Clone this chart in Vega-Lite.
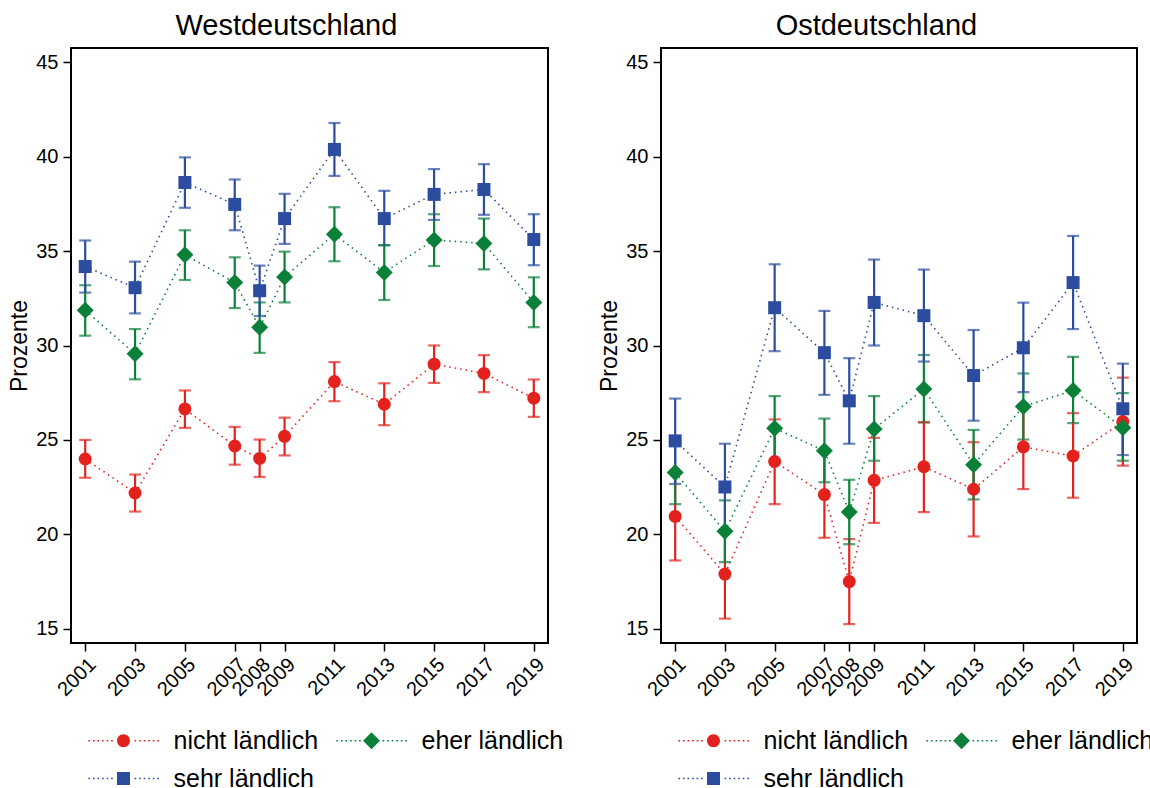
{
  "$schema": "https://vega.github.io/schema/vega-lite/v6.json",
  "padding": {"left": 7, "top": 11, "right": 5, "bottom": 0},
  "background": "white",
  "config": {
    "font": "Liberation Sans",
    "view": {"stroke": "black", "strokeWidth": 2},
    "title": {"fontSize": 29, "fontWeight": "normal", "color": "black", "anchor": "middle", "frame": "bounds", "offset": 7},
    "axis": {"grid": false, "domain": false, "tickColor": "black", "tickWidth": 1.5, "tickSize": 8, "labelColor": "black", "labelFontSize": 20, "titleColor": "black", "titleFontWeight": "normal", "titleFontSize": 23, "labelPadding": 5, "labelOverlap": false},
    "legend": {"orient": "bottom", "title": null, "columns": 2, "labelFontSize": 25, "labelColor": "black", "symbolSize": 169, "symbolStrokeWidth": 0, "symbolOpacity": 1, "symbolOffset": 40, "labelOffset": 37.5, "columnPadding": -4, "rowPadding": 12, "offset": 28}
  },
  "data": {"values": [
    {"region": "West", "serie": "nicht ländlich", "jahr": 2001, "wert": 23.99, "lo": 23.0, "hi": 25.0},
    {"region": "West", "serie": "nicht ländlich", "jahr": 2003, "wert": 22.19, "lo": 21.21, "hi": 23.17},
    {"region": "West", "serie": "nicht ländlich", "jahr": 2005, "wert": 26.64, "lo": 25.64, "hi": 27.62},
    {"region": "West", "serie": "nicht ländlich", "jahr": 2007, "wert": 24.68, "lo": 23.69, "hi": 25.69},
    {"region": "West", "serie": "nicht ländlich", "jahr": 2008, "wert": 24.02, "lo": 23.04, "hi": 25.02},
    {"region": "West", "serie": "nicht ländlich", "jahr": 2009, "wert": 25.19, "lo": 24.18, "hi": 26.18},
    {"region": "West", "serie": "nicht ländlich", "jahr": 2011, "wert": 28.09, "lo": 27.05, "hi": 29.12},
    {"region": "West", "serie": "nicht ländlich", "jahr": 2013, "wert": 26.89, "lo": 25.78, "hi": 28.0},
    {"region": "West", "serie": "nicht ländlich", "jahr": 2015, "wert": 29.01, "lo": 28.02, "hi": 30.0},
    {"region": "West", "serie": "nicht ländlich", "jahr": 2017, "wert": 28.52, "lo": 27.53, "hi": 29.49},
    {"region": "West", "serie": "nicht ländlich", "jahr": 2019, "wert": 27.21, "lo": 26.22, "hi": 28.2},
    {"region": "West", "serie": "eher ländlich", "jahr": 2001, "wert": 31.86, "lo": 30.52, "hi": 33.19},
    {"region": "West", "serie": "eher ländlich", "jahr": 2003, "wert": 29.56, "lo": 28.21, "hi": 30.87},
    {"region": "West", "serie": "eher ländlich", "jahr": 2005, "wert": 34.8, "lo": 33.47, "hi": 36.1},
    {"region": "West", "serie": "eher ländlich", "jahr": 2007, "wert": 33.33, "lo": 31.98, "hi": 34.67},
    {"region": "West", "serie": "eher ländlich", "jahr": 2008, "wert": 30.96, "lo": 29.61, "hi": 32.28},
    {"region": "West", "serie": "eher ländlich", "jahr": 2009, "wert": 33.63, "lo": 32.28, "hi": 34.97},
    {"region": "West", "serie": "eher ländlich", "jahr": 2011, "wert": 35.89, "lo": 34.46, "hi": 37.32},
    {"region": "West", "serie": "eher ländlich", "jahr": 2013, "wert": 33.87, "lo": 32.41, "hi": 35.31},
    {"region": "West", "serie": "eher ländlich", "jahr": 2015, "wert": 35.59, "lo": 34.21, "hi": 36.95},
    {"region": "West", "serie": "eher ländlich", "jahr": 2017, "wert": 35.4, "lo": 34.03, "hi": 36.72},
    {"region": "West", "serie": "eher ländlich", "jahr": 2019, "wert": 32.27, "lo": 30.97, "hi": 33.61},
    {"region": "West", "serie": "sehr ländlich", "jahr": 2001, "wert": 34.18, "lo": 32.8, "hi": 35.56},
    {"region": "West", "serie": "sehr ländlich", "jahr": 2003, "wert": 33.06, "lo": 31.7, "hi": 34.44},
    {"region": "West", "serie": "sehr ländlich", "jahr": 2005, "wert": 38.63, "lo": 37.29, "hi": 39.96},
    {"region": "West", "serie": "sehr ländlich", "jahr": 2007, "wert": 37.47, "lo": 36.1, "hi": 38.79},
    {"region": "West", "serie": "sehr ländlich", "jahr": 2008, "wert": 32.9, "lo": 31.56, "hi": 34.23},
    {"region": "West", "serie": "sehr ländlich", "jahr": 2009, "wert": 36.72, "lo": 35.38, "hi": 38.03},
    {"region": "West", "serie": "sehr ländlich", "jahr": 2011, "wert": 40.38, "lo": 38.98, "hi": 41.78},
    {"region": "West", "serie": "sehr ländlich", "jahr": 2013, "wert": 36.72, "lo": 35.31, "hi": 38.19},
    {"region": "West", "serie": "sehr ländlich", "jahr": 2015, "wert": 38.0, "lo": 36.65, "hi": 39.34},
    {"region": "West", "serie": "sehr ländlich", "jahr": 2017, "wert": 38.26, "lo": 36.92, "hi": 39.6},
    {"region": "West", "serie": "sehr ländlich", "jahr": 2019, "wert": 35.61, "lo": 34.25, "hi": 36.95},
    {"region": "Ost", "serie": "nicht ländlich", "jahr": 2001, "wert": 20.95, "lo": 18.62, "hi": 23.28},
    {"region": "Ost", "serie": "nicht ländlich", "jahr": 2003, "wert": 17.9, "lo": 15.54, "hi": 20.26},
    {"region": "Ost", "serie": "nicht ländlich", "jahr": 2005, "wert": 23.86, "lo": 21.6, "hi": 26.09},
    {"region": "Ost", "serie": "nicht ländlich", "jahr": 2007, "wert": 22.11, "lo": 19.82, "hi": 24.4},
    {"region": "Ost", "serie": "nicht ländlich", "jahr": 2008, "wert": 17.5, "lo": 15.25, "hi": 19.75},
    {"region": "Ost", "serie": "nicht ländlich", "jahr": 2009, "wert": 22.86, "lo": 20.61, "hi": 25.11},
    {"region": "Ost", "serie": "nicht ländlich", "jahr": 2011, "wert": 23.58, "lo": 21.18, "hi": 25.95},
    {"region": "Ost", "serie": "nicht ländlich", "jahr": 2013, "wert": 22.39, "lo": 19.89, "hi": 24.88},
    {"region": "Ost", "serie": "nicht ländlich", "jahr": 2015, "wert": 24.63, "lo": 22.4, "hi": 26.86},
    {"region": "Ost", "serie": "nicht ländlich", "jahr": 2017, "wert": 24.15, "lo": 21.94, "hi": 26.42},
    {"region": "Ost", "serie": "nicht ländlich", "jahr": 2019, "wert": 25.97, "lo": 23.64, "hi": 28.3},
    {"region": "Ost", "serie": "eher ländlich", "jahr": 2001, "wert": 23.27, "lo": 21.6, "hi": 24.94},
    {"region": "Ost", "serie": "eher ländlich", "jahr": 2003, "wert": 20.16, "lo": 18.53, "hi": 21.8},
    {"region": "Ost", "serie": "eher ländlich", "jahr": 2005, "wert": 25.62, "lo": 23.92, "hi": 27.32},
    {"region": "Ost", "serie": "eher ländlich", "jahr": 2007, "wert": 24.43, "lo": 22.76, "hi": 26.13},
    {"region": "Ost", "serie": "eher ländlich", "jahr": 2008, "wert": 21.18, "lo": 19.48, "hi": 22.89},
    {"region": "Ost", "serie": "eher ländlich", "jahr": 2009, "wert": 25.58, "lo": 23.9, "hi": 27.32},
    {"region": "Ost", "serie": "eher ländlich", "jahr": 2011, "wert": 27.7, "lo": 25.92, "hi": 29.5},
    {"region": "Ost", "serie": "eher ländlich", "jahr": 2013, "wert": 23.69, "lo": 21.85, "hi": 25.53},
    {"region": "Ost", "serie": "eher ländlich", "jahr": 2015, "wert": 26.77, "lo": 25.02, "hi": 28.52},
    {"region": "Ost", "serie": "eher ländlich", "jahr": 2017, "wert": 27.62, "lo": 25.89, "hi": 29.4},
    {"region": "Ost", "serie": "eher ländlich", "jahr": 2019, "wert": 25.65, "lo": 23.9, "hi": 27.48},
    {"region": "Ost", "serie": "sehr ländlich", "jahr": 2001, "wert": 24.95, "lo": 22.67, "hi": 27.19},
    {"region": "Ost", "serie": "sehr ländlich", "jahr": 2003, "wert": 22.51, "lo": 20.22, "hi": 24.8},
    {"region": "Ost", "serie": "sehr ländlich", "jahr": 2005, "wert": 32.0, "lo": 29.7, "hi": 34.3},
    {"region": "Ost", "serie": "sehr ländlich", "jahr": 2007, "wert": 29.62, "lo": 27.39, "hi": 31.83},
    {"region": "Ost", "serie": "sehr ländlich", "jahr": 2008, "wert": 27.07, "lo": 24.8, "hi": 29.33},
    {"region": "Ost", "serie": "sehr ländlich", "jahr": 2009, "wert": 32.28, "lo": 30.0, "hi": 34.55},
    {"region": "Ost", "serie": "sehr ländlich", "jahr": 2011, "wert": 31.58, "lo": 29.15, "hi": 34.02},
    {"region": "Ost", "serie": "sehr ländlich", "jahr": 2013, "wert": 28.41, "lo": 26.02, "hi": 30.82},
    {"region": "Ost", "serie": "sehr ländlich", "jahr": 2015, "wert": 29.88, "lo": 27.53, "hi": 32.27},
    {"region": "Ost", "serie": "sehr ländlich", "jahr": 2017, "wert": 33.33, "lo": 30.87, "hi": 35.8},
    {"region": "Ost", "serie": "sehr ländlich", "jahr": 2019, "wert": 26.65, "lo": 24.2, "hi": 29.04}
  ]},
  "spacing": 32,
  "resolve": {
    "scale": {"color": "independent", "shape": "independent"},
    "legend": {"color": "independent", "shape": "independent"}
  },
  "hconcat": [
    {
      "title": "Westdeutschland",
      "width": 477,
      "height": 595,
      "transform": [{"filter": "datum.region === 'West'"}],
      "encoding": {
        "x": {"field": "jahr", "type": "quantitative", "scale": {"domain": [2000.43, 2019.57], "nice": false, "zero": false},
          "axis": {"title": null, "values": [2001, 2003, 2005, 2007, 2008, 2009, 2011, 2013, 2015, 2017, 2019], "format": "d", "labelAngle": -45, "labelPadding": 3}},
        "color": {"field": "serie", "type": "nominal",
          "scale": {"domain": ["nicht ländlich", "eher ländlich", "sehr ländlich"], "range": ["#e3221e", "#0a8038", "#2b4c9f"]},
          "legend": {"symbolSize": 169, "symbolStrokeWidth": 0, "symbolOpacity": 1}}
      },
      "layer": [
        {
          "mark": {"type": "line", "strokeDash": [1.5, 4], "strokeWidth": 1.6},
          "encoding": {
            "y": {"field": "wert", "type": "quantitative", "scale": {"domain": [14.25, 45.75], "nice": false, "zero": false},
              "axis": {"title": "Prozente", "values": [15, 20, 25, 30, 35, 40, 45], "titlePadding": 4, "labelPadding": 5}}
          }
        },
        {
          "mark": {"type": "errorbar", "ticks": true, "size": 12, "thickness": 2.2},
          "encoding": {
            "y": {"field": "lo", "type": "quantitative", "title": "Prozente"},
            "y2": {"field": "hi"}
          }
        },
        {
          "transform": [{"filter": "datum.serie === 'nicht ländlich'"}],
          "mark": {"type": "point", "filled": true, "opacity": 1, "shape": "circle", "size": 169},
          "encoding": {"y": {"field": "wert", "type": "quantitative"}}
        },
        {
          "transform": [{"filter": "datum.serie === 'eher ländlich'"}],
          "mark": {"type": "point", "filled": true, "opacity": 1, "shape": "diamond", "size": 289},
          "encoding": {"y": {"field": "wert", "type": "quantitative"}}
        },
        {
          "transform": [{"filter": "datum.serie === 'sehr ländlich'"}],
          "mark": {"type": "point", "filled": true, "opacity": 1, "shape": "square", "size": 169},
          "encoding": {"y": {"field": "wert", "type": "quantitative"}}
        },
        {
          "mark": {"type": "point", "filled": true, "clip": true, "size": 169, "opacity": 1},
          "encoding": {
            "y": {"datum": 60},
            "shape": {"field": "serie", "type": "nominal",
              "scale": {"domain": ["nicht ländlich", "eher ländlich", "sehr ländlich"], "range": [
                "M1,0A1,1,0,1,1,-1,0A1,1,0,1,1,1,0ZM-5.4,-0.12h0.25v0.25h-0.25zM-4.7,-0.12h0.25v0.25h-0.25zM-4,-0.12h0.25v0.25h-0.25zM-3.3,-0.12h0.25v0.25h-0.25zM-2.6,-0.12h0.25v0.25h-0.25zM-1.9,-0.12h0.25v0.25h-0.25zM1.7,-0.12h0.25v0.25h-0.25zM2.4,-0.12h0.25v0.25h-0.25zM3.1,-0.12h0.25v0.25h-0.25zM3.8,-0.12h0.25v0.25h-0.25zM4.5,-0.12h0.25v0.25h-0.25zM5.2,-0.12h0.25v0.25h-0.25z",
                "M0,-1.3L1.3,0L0,1.3L-1.3,0ZM-5.4,-0.12h0.25v0.25h-0.25zM-4.7,-0.12h0.25v0.25h-0.25zM-4,-0.12h0.25v0.25h-0.25zM-3.3,-0.12h0.25v0.25h-0.25zM-2.6,-0.12h0.25v0.25h-0.25zM-1.9,-0.12h0.25v0.25h-0.25zM1.7,-0.12h0.25v0.25h-0.25zM2.4,-0.12h0.25v0.25h-0.25zM3.1,-0.12h0.25v0.25h-0.25zM3.8,-0.12h0.25v0.25h-0.25zM4.5,-0.12h0.25v0.25h-0.25zM5.2,-0.12h0.25v0.25h-0.25z",
                "M-1,-1H1V1H-1ZM-5.4,-0.12h0.25v0.25h-0.25zM-4.7,-0.12h0.25v0.25h-0.25zM-4,-0.12h0.25v0.25h-0.25zM-3.3,-0.12h0.25v0.25h-0.25zM-2.6,-0.12h0.25v0.25h-0.25zM-1.9,-0.12h0.25v0.25h-0.25zM1.7,-0.12h0.25v0.25h-0.25zM2.4,-0.12h0.25v0.25h-0.25zM3.1,-0.12h0.25v0.25h-0.25zM3.8,-0.12h0.25v0.25h-0.25zM4.5,-0.12h0.25v0.25h-0.25zM5.2,-0.12h0.25v0.25h-0.25z"
              ]}}
          }
        }
      ]
    },
    {
      "title": "Ostdeutschland",
      "width": 476,
      "height": 595,
      "transform": [{"filter": "datum.region === 'Ost'"}],
      "encoding": {
        "x": {"field": "jahr", "type": "quantitative", "scale": {"domain": [2000.43, 2019.57], "nice": false, "zero": false},
          "axis": {"title": null, "values": [2001, 2003, 2005, 2007, 2008, 2009, 2011, 2013, 2015, 2017, 2019], "format": "d", "labelAngle": -45, "labelPadding": 3}},
        "color": {"field": "serie", "type": "nominal",
          "scale": {"domain": ["nicht ländlich", "eher ländlich", "sehr ländlich"], "range": ["#e3221e", "#0a8038", "#2b4c9f"]},
          "legend": {"symbolSize": 169, "symbolStrokeWidth": 0, "symbolOpacity": 1}}
      },
      "layer": [
        {
          "mark": {"type": "line", "strokeDash": [1.5, 4], "strokeWidth": 1.6},
          "encoding": {
            "y": {"field": "wert", "type": "quantitative", "scale": {"domain": [14.25, 45.75], "nice": false, "zero": false},
              "axis": {"title": "Prozente", "values": [15, 20, 25, 30, 35, 40, 45], "titlePadding": 4, "labelPadding": 5}}
          }
        },
        {
          "mark": {"type": "errorbar", "ticks": true, "size": 12, "thickness": 2.2},
          "encoding": {
            "y": {"field": "lo", "type": "quantitative", "title": "Prozente"},
            "y2": {"field": "hi"}
          }
        },
        {
          "transform": [{"filter": "datum.serie === 'nicht ländlich'"}],
          "mark": {"type": "point", "filled": true, "opacity": 1, "shape": "circle", "size": 169},
          "encoding": {"y": {"field": "wert", "type": "quantitative"}}
        },
        {
          "transform": [{"filter": "datum.serie === 'eher ländlich'"}],
          "mark": {"type": "point", "filled": true, "opacity": 1, "shape": "diamond", "size": 289},
          "encoding": {"y": {"field": "wert", "type": "quantitative"}}
        },
        {
          "transform": [{"filter": "datum.serie === 'sehr ländlich'"}],
          "mark": {"type": "point", "filled": true, "opacity": 1, "shape": "square", "size": 169},
          "encoding": {"y": {"field": "wert", "type": "quantitative"}}
        },
        {
          "mark": {"type": "point", "filled": true, "clip": true, "size": 169, "opacity": 1},
          "encoding": {
            "y": {"datum": 60},
            "shape": {"field": "serie", "type": "nominal",
              "scale": {"domain": ["nicht ländlich", "eher ländlich", "sehr ländlich"], "range": [
                "M1,0A1,1,0,1,1,-1,0A1,1,0,1,1,1,0ZM-5.4,-0.12h0.25v0.25h-0.25zM-4.7,-0.12h0.25v0.25h-0.25zM-4,-0.12h0.25v0.25h-0.25zM-3.3,-0.12h0.25v0.25h-0.25zM-2.6,-0.12h0.25v0.25h-0.25zM-1.9,-0.12h0.25v0.25h-0.25zM1.7,-0.12h0.25v0.25h-0.25zM2.4,-0.12h0.25v0.25h-0.25zM3.1,-0.12h0.25v0.25h-0.25zM3.8,-0.12h0.25v0.25h-0.25zM4.5,-0.12h0.25v0.25h-0.25zM5.2,-0.12h0.25v0.25h-0.25z",
                "M0,-1.3L1.3,0L0,1.3L-1.3,0ZM-5.4,-0.12h0.25v0.25h-0.25zM-4.7,-0.12h0.25v0.25h-0.25zM-4,-0.12h0.25v0.25h-0.25zM-3.3,-0.12h0.25v0.25h-0.25zM-2.6,-0.12h0.25v0.25h-0.25zM-1.9,-0.12h0.25v0.25h-0.25zM1.7,-0.12h0.25v0.25h-0.25zM2.4,-0.12h0.25v0.25h-0.25zM3.1,-0.12h0.25v0.25h-0.25zM3.8,-0.12h0.25v0.25h-0.25zM4.5,-0.12h0.25v0.25h-0.25zM5.2,-0.12h0.25v0.25h-0.25z",
                "M-1,-1H1V1H-1ZM-5.4,-0.12h0.25v0.25h-0.25zM-4.7,-0.12h0.25v0.25h-0.25zM-4,-0.12h0.25v0.25h-0.25zM-3.3,-0.12h0.25v0.25h-0.25zM-2.6,-0.12h0.25v0.25h-0.25zM-1.9,-0.12h0.25v0.25h-0.25zM1.7,-0.12h0.25v0.25h-0.25zM2.4,-0.12h0.25v0.25h-0.25zM3.1,-0.12h0.25v0.25h-0.25zM3.8,-0.12h0.25v0.25h-0.25zM4.5,-0.12h0.25v0.25h-0.25zM5.2,-0.12h0.25v0.25h-0.25z"
              ]}}
          }
        }
      ]
    }
  ]
}
